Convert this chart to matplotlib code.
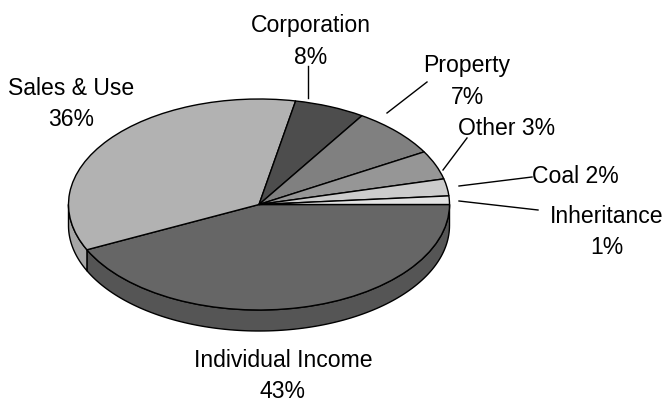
import numpy as np
import matplotlib
matplotlib.use('Agg')
import matplotlib.pyplot as plt

plt.rcParams['font.family'] = ['Liberation Sans', 'DejaVu Sans']

names = ['Individual Income', 'Sales & Use', 'Corporation', 'Property', 'Other', 'Coal', 'Inheritance']
shares = [42.9, 35.1, 6.0, 7.6, 4.4, 2.6, 1.3]
top_colors = ['#666666', '#b2b2b2', '#4d4d4d', '#808080', '#969696', '#cccccc', '#e3e3e3']
side_colors = ['#555555', '#a6a6a6', '#404040', '#6b6b6b', '#7d7d7d', '#aaaaaa', '#bdbdbd']
labels = ['Individual Income\n43%', 'Sales & Use\n36%', 'Corporation\n8%', 'Property\n7%',
          'Other 3%', 'Coal 2%', 'Inheritance\n1%']
# x centre and baseline of each label's first line, in pixels
label_pos = [(283, 367), (71, 95), (311, 32), (467, 72), (507, 135), (575, 183), (607, 223)]
line_step = 31.5
leaders = [None, None, ((308, 66), (308, 98)), ((427, 82), (387, 113)), ((467, 138), (443, 170)),
           ((532, 177), (459, 186)), ((538, 210), (459, 201))]

W, H = 664, 400
cx, cy, rx, ry, depth = 259, 204.5, 190.5, 105.5, 21

fig = plt.figure(figsize=(W / 100, H / 100), dpi=100)
bg = fig.add_axes([0, 0, 1, 1], zorder=1)
bg.set_xlim(0, W); bg.set_ylim(H, 0); bg.axis('off')

# side wall: only the front half (0..180 deg clockwise) shows
edges = np.cumsum([0] + shares) / sum(shares) * 360
for i in range(len(shares)):
    a0, a1 = edges[i], min(edges[i + 1], 180)
    if a0 >= 180:
        break
    t = np.radians(np.linspace(a0, a1, 120))
    x = cx + rx * np.cos(t)
    y = cy + ry * np.sin(t)
    xs = np.r_[x, x[::-1]]
    ys = np.r_[y, y[::-1] + depth]
    bg.fill(xs, ys, fc=side_colors[i], ec='black', lw=1.0, joinstyle='round')

# top face: an ordinary pie squashed by a non-equal aspect axes
ax = fig.add_axes([(cx - rx) / W, 1 - (cy + ry) / H, 2 * rx / W, 2 * ry / H], zorder=2)
ax.pie(shares, colors=top_colors, startangle=0, counterclock=False, radius=1,
       wedgeprops=dict(edgecolor='black', linewidth=1.0, clip_on=False))
ax.set_aspect('auto')
ax.set_xlim(-1, 1); ax.set_ylim(-1, 1)
ax.axis('off')

fg = fig.add_axes([0, 0, 1, 1], zorder=3)
fg.set_xlim(0, W); fg.set_ylim(H, 0); fg.axis('off')
for lab, pos, ld in zip(labels, label_pos, leaders):
    for k, line in enumerate(lab.split('\n')):
        fg.text(pos[0], pos[1] + k * line_step, line, ha='center', va='baseline', fontsize=16.6, color='black')
    if ld is not None:
        fg.plot([ld[0][0], ld[1][0]], [ld[0][1], ld[1][1]], color='black', lw=1.0)

fig.savefig('out.png', dpi=100)
